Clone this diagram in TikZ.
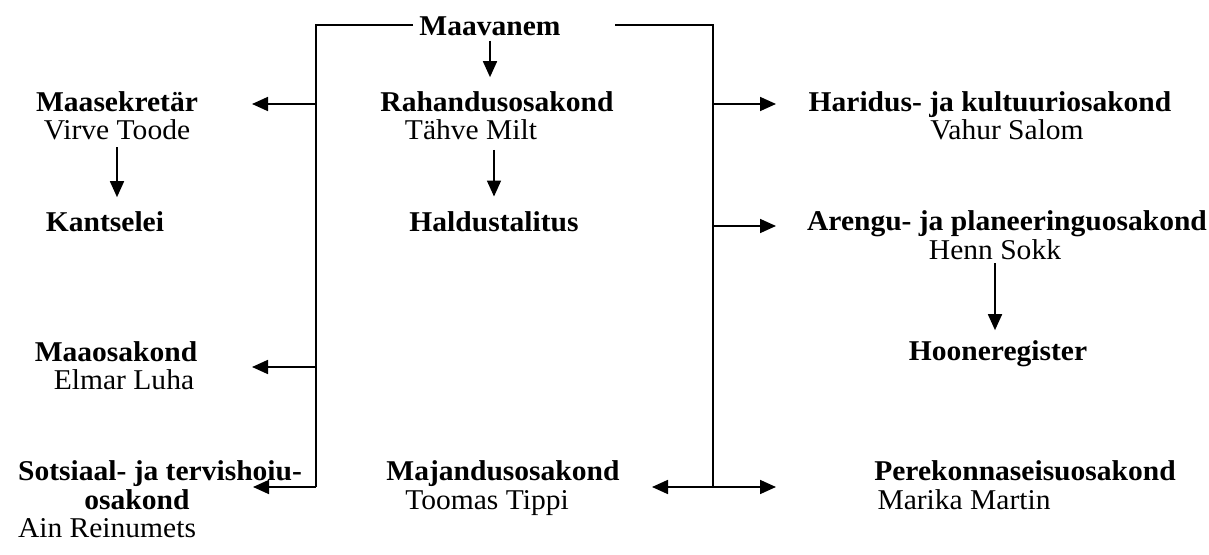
\documentclass[tikz,border=0pt]{standalone}
\usepackage{fontspec}
\setmainfont{Liberation Serif}[FakeStretch=1.03]
\usetikzlibrary{arrows.meta}

\begin{document}
\begin{tikzpicture}[
    x=0.75pt, y=-0.75pt,
    every node/.style={inner sep=0pt, anchor=base, font=\fontsize{21.5}{24}\selectfont},
    unit/.style={font=\fontsize{21.5}{24}\selectfont\bfseries},
    line/.style={line width=1.3pt},
    arr/.style={line width=1.3pt, -{Triangle[length=12pt, width=10.5pt]}},
]
\useasboundingbox (0,0) rectangle (1209,555);

% Nodes
\node[unit] (maavanem) at (490,36) {Maavanem};
\node[unit] (sekretar) at (117,112) {Maasekretär};
\node (toode) at (117,140) {Virve Toode};
\node[unit] (kantselei) at (105,232) {Kantselei};
\node[unit] (rahandus) at (497,112) {Rahandusosakond};
\node (milt) at (471,140) {Tähve Milt};
\node[unit] (haldus) at (494,232) {Haldustalitus};
\node[unit] (haridus) at (990,112) {Haridus- ja kultuuriosakond};
\node (salom) at (1007,140) {Vahur Salom};
\node[unit] (arengu) at (1007,231) {Arengu- ja planeeringuosakond};
\node (sokk) at (995,260) {Henn Sokk};
\node[unit] (hoone) at (998,361) {Hooneregister};
\node[unit] (maaosak) at (116,362) {Maaosakond};
\node (luha) at (124,390) {Elmar Luha};
\node[unit] (sots) at (160,480) {Sotsiaal- ja tervishoiu-};
\node[unit] (sotsb) at (137,509) {osakond};
\node (reinumets) at (107,537) {Ain Reinumets};
\node[unit] (majandus) at (503,480) {Majandusosakond};
\node (tippi) at (487,509) {Toomas Tippi};
\node[unit] (perek) at (1025,480) {Perekonnaseisuosakond};
\node (martin) at (964,509) {Marika Martin};

% Trunk lines
\coordinate (gapL) at (413,25);
\coordinate (topL) at (316,25);
\coordinate (botL) at (316,487);
\coordinate (gapR) at (615,25);
\coordinate (topR) at (713,25);
\coordinate (botR) at (713,487);
\draw[line] (gapL) -- (topL) -- (botL);
\draw[line] (gapR) -- (topR) -- (botR);

% Arrow tips
\coordinate (sekTip) at (252,104);
\coordinate (maaTip) at (252,367);
\coordinate (sotsTip) at (253,487);
\coordinate (harTip) at (776,104);
\coordinate (areTip) at (776,226);
\coordinate (perTip) at (776,487);
\coordinate (majTip) at (652,487);

% Arrows
\draw[arr] (topL |- sekTip) -- (sekTip);
\draw[arr] (topL |- maaTip) -- (maaTip);
\draw[arr] (botL) -- (sotsTip);
\draw[arr] (topR |- harTip) -- (harTip);
\draw[arr] (topR |- areTip) -- (areTip);
\draw[arr] (botR) -- (perTip);
\draw[arr] (botR) -- (majTip);
\draw[arr, shorten <=3pt, shorten >=11pt] (maavanem.south) -- (maavanem.south |- rahandus.north);
\draw[arr, shorten <=5pt, shorten >=11pt] (toode.south) -- (toode.south |- kantselei.north);
\draw[arr, shorten <=7pt, shorten >=11.5pt] (haldus.north |- milt.south) -- (haldus.north);
\draw[arr, shorten <=2pt, shorten >=8pt] (sokk.south) -- (sokk.south |- hoone.north);
\end{tikzpicture}
\end{document}
